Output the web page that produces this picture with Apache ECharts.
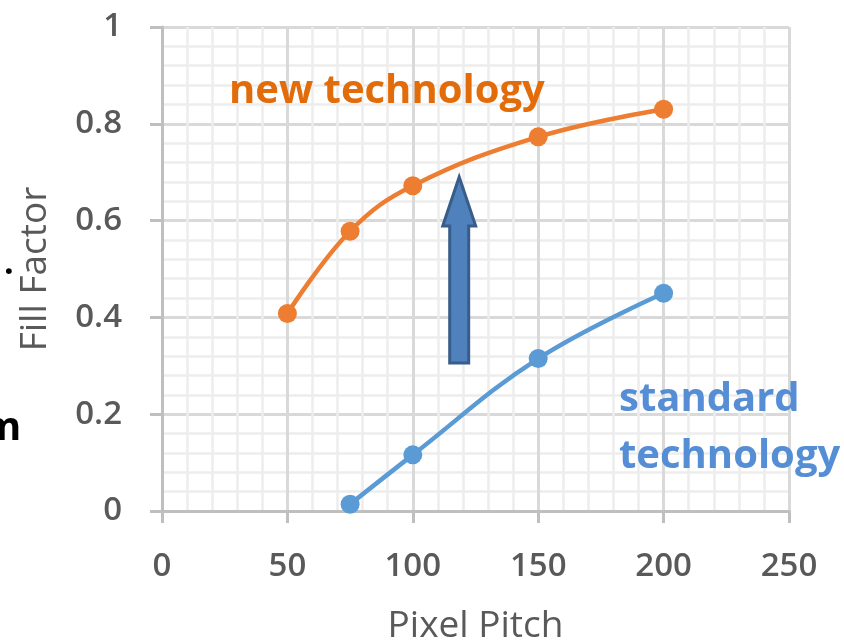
<!DOCTYPE html>
<html>
<head>
<meta charset="utf-8">
<script src="https://cdn.jsdelivr.net/npm/echarts@6/dist/echarts.min.js"></script>
<style>
html,body{margin:0;padding:0;background:#fff;}
#c{width:844px;height:644px;}
</style>
</head>
<body>
<div id="c"></div>
<script>
// ---- data ----
var newTechX = [50, 75, 100, 150, 200];
var newTechY = [0.408, 0.578, 0.672, 0.773, 0.830];
var stdTechX = [75, 100, 150, 200];
var stdTechY = [0.014, 0.116, 0.315, 0.450];
var xTicks = [0, 50, 100, 150, 200, 250];
var yTicks = [0, 0.2, 0.4, 0.6, 0.8, 1];
var xName = 'Pixel Pitch';
var yName = 'Fill Factor';
var newLabel = 'new technology';
var stdLabel = 'standard\ntechnology';
// arrow annotation in data units: [x, yBottom, yTip]
var arrowData = [118.5, 0.306, 0.69];

function pairs(xs, ys){ return xs.map(function(x,i){ return [x, ys[i]]; }); }

var FONT = '"Open Sans", "Noto Sans", sans-serif';
var chart = echarts.init(document.getElementById('c'), null, {renderer:'canvas'});

var axisCommon = {
  axisLine: {show:true, lineStyle:{color:'#BFBFBF', width:3}},
  axisTick: {show:true, length:12, lineStyle:{color:'#BFBFBF', width:3}},
  splitLine: {show:true, lineStyle:{color:'#D9D9D9', width:3}},
  minorTick: {show:false, splitNumber:5},
  minorSplitLine: {show:true, lineStyle:{color:'#EDEDED', width:2.5}},
  axisLabel: {color:'#595959', fontFamily:FONT, fontWeight:600, fontSize:33},
  nameTextStyle: {color:'#595959', fontFamily:FONT, fontWeight:500, fontSize:37},
  nameLocation: 'middle'
};

var baseGraphic = [
  {type:'text', left:229, top:72, style:{text:newLabel, fill:'#E36C0A', font:'bold 40px ' + FONT}, z:10},
  {type:'text', left:619, top:371, style:{text:stdLabel, fill:'#558ED5', font:'bold 40px ' + FONT, lineHeight:57}, z:10},
  {type:'text', left:4, top:247, style:{text:'.', fill:'#000', font:'bold 34px ' + FONT}, z:10},
  {type:'text', left:-18, top:409, style:{text:'m', fill:'#000', font:'bold 40px ' + FONT}, z:10}
];

var option = {
  backgroundColor: '#ffffff',
  animation: false,
  grid: {left:162, right:55, top:27, bottom:133, containLabel:false, outerBoundsMode:'none'},
  xAxis: Object.assign({}, axisCommon, {
    type:'value', min:xTicks[0], max:xTicks[xTicks.length-1], interval:xTicks[1]-xTicks[0],
    name:xName, nameGap:97,
    axisLabel: Object.assign({}, axisCommon.axisLabel, {margin:39})
  }),
  yAxis: Object.assign({}, axisCommon, {
    type:'value', min:yTicks[0], max:yTicks[yTicks.length-1], interval:yTicks[1]-yTicks[0],
    name:yName, nameGap:108, nameRotate:90,
    axisLabel: Object.assign({}, axisCommon.axisLabel, {margin:40})
  }),
  series: [
    {
      name: newLabel, type:'line', data: pairs(newTechX, newTechY),
      smooth: 0.4, symbol:'circle', symbolSize:19,
      lineStyle:{color:'#ED7D31', width:4.5},
      itemStyle:{color:'#ED7D31'}, z:3
    },
    {
      name: stdLabel, type:'line', data: pairs(stdTechX, stdTechY),
      smooth: 0.4, symbol:'circle', symbolSize:19,
      lineStyle:{color:'#5B9BD5', width:4.5},
      itemStyle:{color:'#5B9BD5'}, z:3
    }
  ],
  graphic: baseGraphic
};
chart.setOption(option);

// block arrow placed via axis scales
var pBottom = chart.convertToPixel({gridIndex:0}, [arrowData[0], arrowData[1]]);
var pTip = chart.convertToPixel({gridIndex:0}, [arrowData[0], arrowData[2]]);
var cx = pBottom[0], shaftHalf = 9.5, headHalf = 16.5, headLen = 49;
var pts = [
  [cx - shaftHalf, pBottom[1]],
  [cx - shaftHalf, pTip[1] + headLen],
  [cx - headHalf, pTip[1] + headLen],
  [cx, pTip[1]],
  [cx + headHalf, pTip[1] + headLen],
  [cx + shaftHalf, pTip[1] + headLen],
  [cx + shaftHalf, pBottom[1]]
];
chart.setOption({
  graphic: baseGraphic.concat([
    {type:'polygon', shape:{points:pts}, style:{fill:'#4F81BD', stroke:'#385D8A', lineWidth:3}, z:9}
  ])
});
</script>
</body>
</html>
